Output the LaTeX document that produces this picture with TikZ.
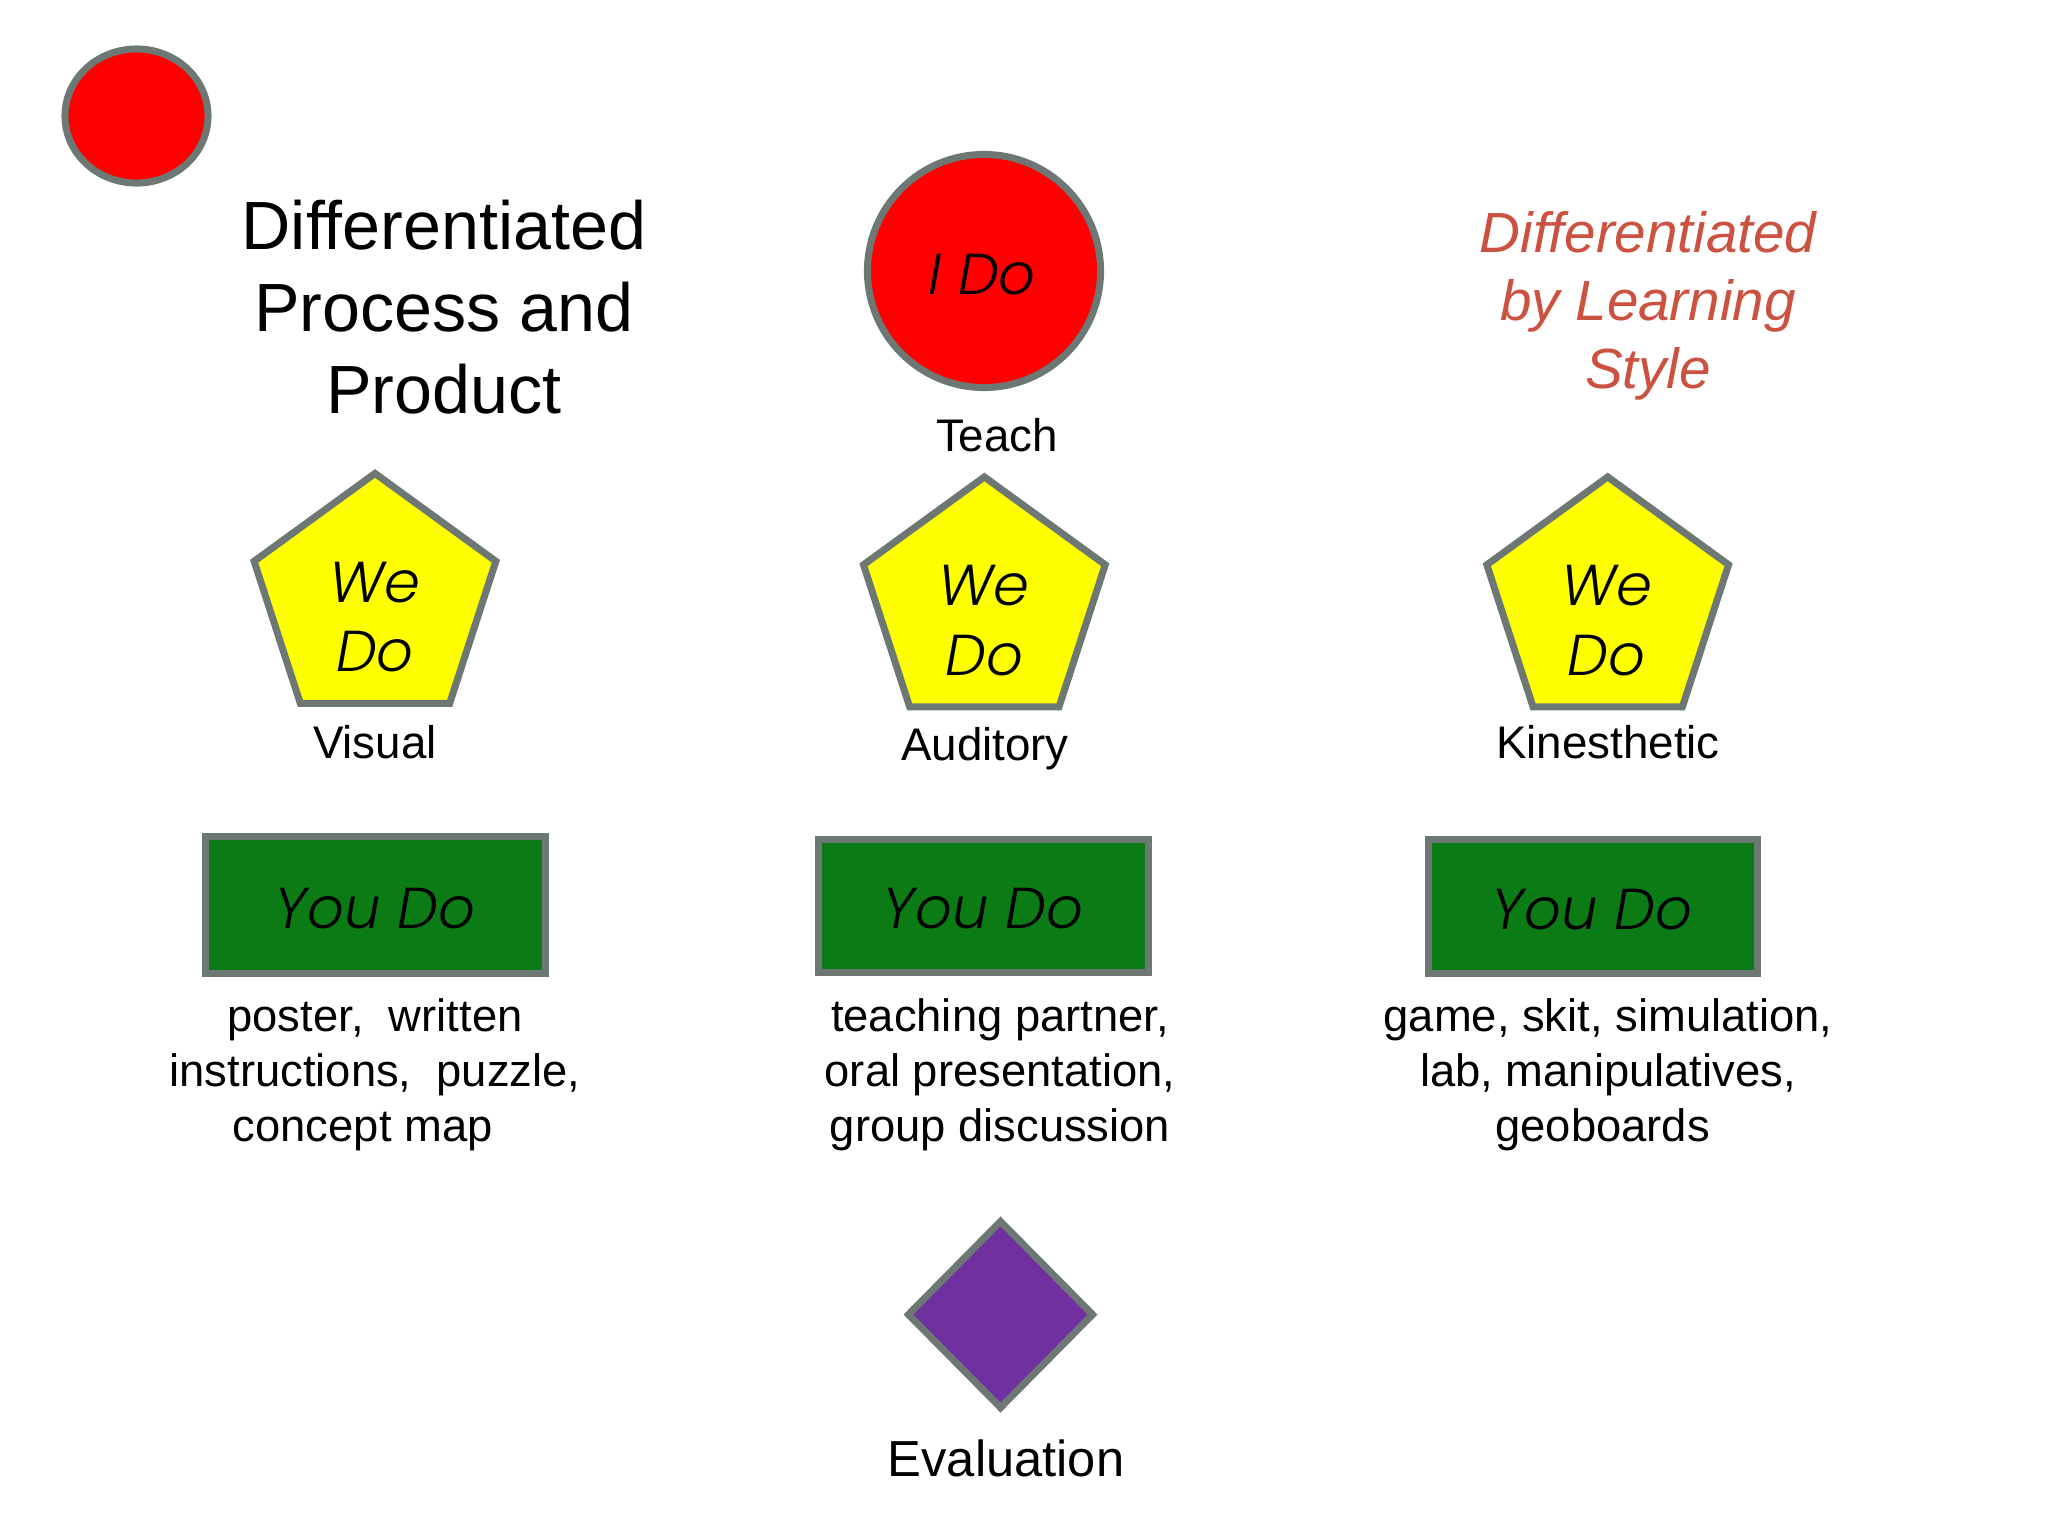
\documentclass[tikz,border=0pt]{standalone}
\usepackage{fontspec}
\setmainfont{Liberation Sans}
\newfontfamily\handfont{Poppins Light Italic}
\usetikzlibrary{shapes.geometric}
\definecolor{rimgray}{HTML}{6D7875}
\definecolor{doyellow}{HTML}{FFFF00}
\definecolor{dored}{HTML}{FF0000}
\definecolor{dogreen}{HTML}{0B7B16}
\definecolor{dopurple}{HTML}{7030A0}
\definecolor{titlered}{HTML}{CB5240}
\tikzset{
  shapebox/.style={draw=rimgray,line width=0.07cm,inner sep=0,outer sep=0},
  wedobox/.style={shapebox,regular polygon,regular polygon sides=5,minimum size=2.54cm,fill=doyellow},
  youdobox/.style={shapebox,rectangle,fill=dogreen},
  dotext/.style={font=\handfont\fontsize{16.4pt}{19.7pt}\selectfont,align=center,inner sep=0},
  steplabel/.style={font=\fontsize{13pt}{15.65pt}\selectfont,align=center,inner sep=0,text height=.72em,text depth=.21em},
  listlabel/.style={font=\fontsize{12.9pt}{15.65pt}\selectfont,align=center,inner sep=0},
}
\begin{document}
\begin{tikzpicture}[x=0.01cm,y=-0.01cm]
  \useasboundingbox (0,0) rectangle (2048,1536);
  \node[shapebox,ellipse,fill=dored,minimum width=1.43cm,minimum height=1.34cm] (dot) at (136.5,116) {};
  \node[align=center,inner sep=0,font=\fontsize{19.4pt}{23.3pt}\selectfont] (title) at (444,307) {Differentiated\\Process and\\Product};
  \node[align=center,inner sep=0,text=titlered,font=\itshape\fontsize{16.1pt}{19.3pt}\selectfont] (style) at (1648,306) {Differentiated\\by Learning\\Style};

  \node[shapebox,circle,fill=dored,minimum size=2.33cm] (ido) at (984,271) {};
  \node[dotext] (idotext) at (982,275) {I Do};
  \node[steplabel] (teach) at (997,443) {Teach};

  \node[wedobox] (wedoa) at (375,600.5) {};
  \node[wedobox,right of=wedoa,node distance=6.09cm,yshift=-0.035cm] (wedob) {};
  \node[wedobox,right of=wedob,node distance=6.23cm] (wedoc) {};
  \node[dotext,below of=wedoa,node distance=0.165cm] (wedoatext) {We\\Do};
  \node[dotext,below of=wedob,node distance=0.165cm] (wedobtext) {We\\Do};
  \node[dotext,below of=wedoc,node distance=0.165cm,xshift=-0.01cm] (wedoctext) {We\\Do};
  \node[steplabel] (visual) at (375,750) {Visual};
  \node[steplabel] (auditory) at (985,752) {Auditory};
  \node[steplabel] (kinesthetic) at (1608,750) {Kinesthetic};

  \node[youdobox,minimum width=3.39cm,minimum height=1.37cm] (youdoa) at (375.5,905) {};
  \node[youdobox,minimum width=3.30cm,minimum height=1.33cm] (youdob) at (983.5,906) {};
  \node[youdobox,minimum width=3.29cm,minimum height=1.34cm] (youdoc) at (1593,906.5) {};
  \node[dotext] (youdoatext) at (375,909) {You Do};
  \node[dotext] (youdobtext) at (983,909) {You Do};
  \node[dotext] (youdoctext) at (1592,910) {You Do};

  \node[listlabel] (lista) at (375,1075) {poster,\ \ written\\instructions,\ \ puzzle,\\concept map\hspace*{7pt}};
  \node[listlabel] (listb) at (1000,1075) {teaching partner,\\oral presentation,\\group discussion};
  \node[listlabel] (listc) at (1608,1075) {game, skit, simulation,\\lab, manipulatives,\\geoboards\hspace*{3pt}};

  \node[shapebox,diamond,fill=dopurple,minimum width=1.84cm,minimum height=1.86cm] (eval) at (1000.5,1314.5) {};
  \node[inner sep=0,font=\fontsize{14.4pt}{17pt}\selectfont] (evaluation) at (1006,1458) {Evaluation};
\end{tikzpicture}
\end{document}
